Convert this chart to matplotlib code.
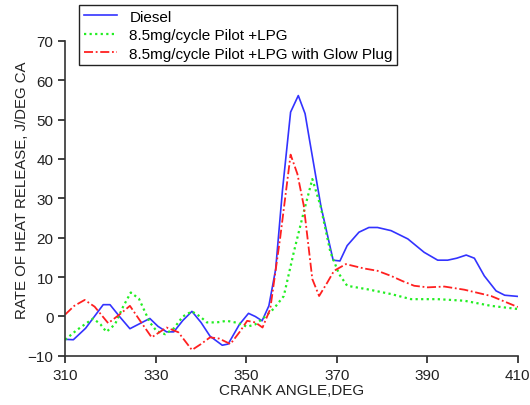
import matplotlib.pyplot as plt

plt.rcParams['font.family'] = ['Liberation Sans', 'DejaVu Sans']

# crank angle (deg) and heat release rate (J/deg CA)
diesel_x = [310, 311.8, 314.5, 318.4, 319.9, 322, 324.3, 326.5, 328.7, 330.5, 332.4, 334,
            336, 338, 340, 342, 344.7, 346, 348.5, 350.5, 352, 353.5, 355, 356.5, 358,
            359.8, 361.5, 363, 364, 366.5, 369.2, 370.7, 372.3, 374.9, 377.1, 379, 382,
            385.7, 389.3, 392.3, 394.5, 396.5, 398.6, 400.4, 402.6, 405.2, 407.1, 410]
diesel_y = [-5.8, -5.9, -3.0, 3.0, 3.0, 0.0, -3.1, -1.8, -0.5, -2.5, -3.9, -3.9,
            -1.0, 1.3, -1.5, -5.0, -7.3, -7.0, -2.0, 0.8, 0.0, -1.1, 2.7, 12.0, 32.0,
            51.9, 56.1, 51.5, 44.7, 28.0, 14.3, 14.1, 18.0, 21.4, 22.6, 22.6, 21.8,
            19.7, 16.3, 14.3, 14.3, 14.8, 15.6, 14.8, 10.3, 6.5, 5.4, 5.1]

lpg_x = [310, 312.5, 314.7, 316.2, 317.8, 319.1, 321, 322.8, 324.5, 326.3, 328.7, 330.2,
         332.1, 334, 336, 338, 339.8, 341.3, 343.5, 345.7, 348, 350.2, 352, 353.9, 356.1,
         358.3, 360.5, 362.7, 364.6, 366.4, 368.6, 370.5, 372.3, 376.8, 382, 386.4,
         392.3, 398.2, 404.1, 410]
lpg_y = [-5.9, -3.5, -1.7, -0.5, -2.0, -3.9, -2.0, 2.5, 6.1, 4.5, -1.5, -3.7,
         -4.5, -3.0, 0.0, 1.3, 0.0, -1.5, -1.5, -1.1, -1.6, -2.6, -2.0, -0.3, 2.0,
         5.2, 16.3, 26.5, 34.9, 28.1, 16.3, 10.8, 7.8, 6.9, 5.7, 4.4,
         4.4, 4.0, 2.7, 1.9]

glow_x = [310, 312, 314.3, 316.5, 319.5, 322, 324.3, 326.5, 329.1, 332.4, 335, 338,
          340, 342, 344, 346.5, 348.5, 350.2, 352, 353.6, 355.3, 357.5, 359.8, 361.3,
          362.7, 364.6, 366.1, 367.9, 369.4, 372, 376, 379, 382, 384.5, 387.1, 390.1,
          393.8, 398.2, 404.1, 410]
glow_y = [0.5, 2.7, 4.2, 2.5, -1.7, 0.5, 2.7, -1.0, -5.3, -2.8, -4.0, -8.5,
          -7.0, -5.3, -5.6, -7.0, -4.0, -1.1, -1.5, -2.8, 1.9, 20.0, 41.1, 36.2,
          28.2, 9.5, 5.2, 8.6, 11.6, 13.3, 12.2, 11.6, 10.3, 9.0, 7.8, 7.4,
          7.6, 6.8, 5.2, 2.4]

labels = ['Diesel', '8.5mg/cycle Pilot +LPG', '8.5mg/cycle Pilot +LPG with Glow Plug']
x_ticks = [310, 330, 350, 370, 390, 410]
y_ticks = [-10, 0, 10, 20, 30, 40, 50, 60, 70]

fig = plt.figure(figsize=(5.3, 4.06), dpi=100)
ax = fig.add_axes([0.123, 0.121, 0.854, 0.776])

ax.plot(diesel_x, diesel_y, color='#3333ff', lw=1.2, label=labels[0])
ax.plot(lpg_x, lpg_y, color='#22ee22', lw=1.6, ls=(0, (1, 1.5)), label=labels[1])
ax.plot(glow_x, glow_y, color='#ff2020', lw=1.3, ls=(0, (5, 1.5, 1, 1.5)), label=labels[2])

ax.set_xlim(310, 410)
ax.set_ylim(-10, 70)
ax.set_xticks(x_ticks)
ax.set_yticks(y_ticks)
ax.tick_params(direction='out', length=5, width=1.2, labelsize=11, colors='#222222')
for side in ['top', 'right']:
    ax.spines[side].set_visible(False)
for side in ['left', 'bottom']:
    ax.spines[side].set_linewidth(1.2)
    ax.spines[side].set_color('#333333')

ax.set_xlabel('CRANK ANGLE,DEG', fontsize=11, color='#222222', labelpad=1)
ax.set_ylabel('RATE OF HEAT RELEASE, J/DEG CA', fontsize=10.8, color='#222222')
ax.yaxis.set_label_coords(-0.081, 0.53)

leg = fig.legend(loc='upper left', bbox_to_anchor=(79 / 530, 1 - 6 / 406), fontsize=11,
                 frameon=True, fancybox=False, framealpha=1, edgecolor='#222222',
                 handlelength=2.2, borderpad=0.3, labelspacing=0.3, handletextpad=0.8,
                 borderaxespad=0)
leg.get_frame().set_linewidth(1.0)

fig.savefig('out.png', dpi=100)
